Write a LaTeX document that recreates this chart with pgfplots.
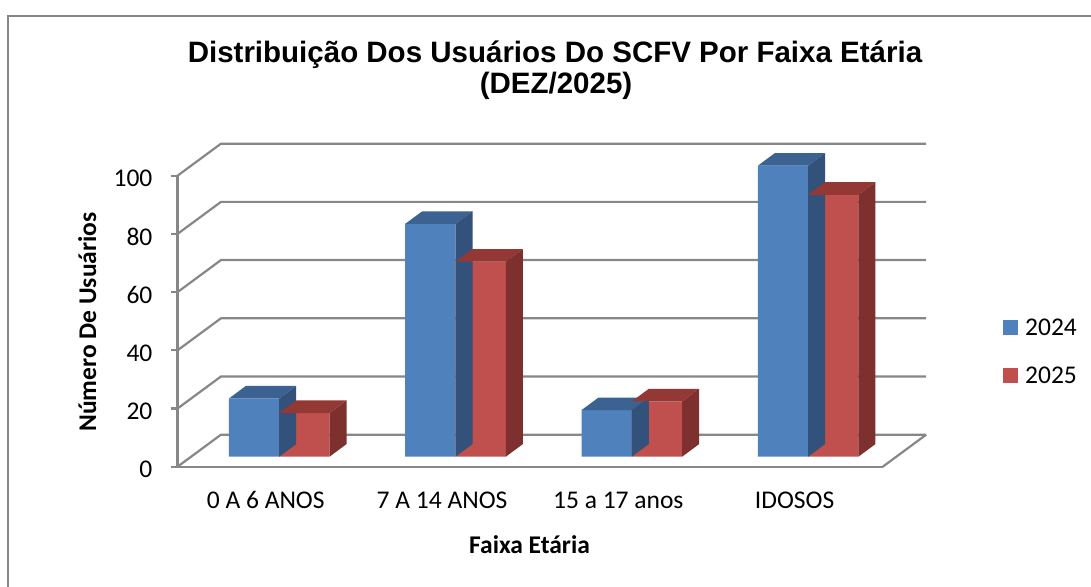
\documentclass[border=0pt]{standalone}
\usepackage{pgfplots}
\pgfplotsset{compat=1.18}
\usepackage{pgfplotstable}
\usepackage{fontspec}
\setmainfont{Carlito}
\newfontfamily\arialfont{Liberation Sans}
\definecolor{blueF}{HTML}{4F81BD}
\definecolor{blueT}{HTML}{3C6292}
\definecolor{blueS}{HTML}{32527C}
\definecolor{redF}{HTML}{C0504D}
\definecolor{redT}{HTML}{933835}
\definecolor{redS}{HTML}{7D302E}
\definecolor{gridgray}{HTML}{878787}

\pgfplotstableread{
x y2024 y2025
0 20 15
1 80 67
2 16 19
3 100 90
}\datatable

% 3D faces of the bars (top and right side), drawn at each data point
\pgfdeclareplotmark{topL}{%
  \pgfpathmoveto{\pgfpoint{-50.3pt}{0pt}}%
  \pgfpathlineto{\pgfpoint{0pt}{0pt}}%
  \pgfpathlineto{\pgfpoint{17pt}{12.6pt}}%
  \pgfpathlineto{\pgfpoint{-33.3pt}{12.6pt}}%
  \pgfpathclose\pgfusepathqfill}
\pgfdeclareplotmark{sideL}{%
  \pgfpathmoveto{\pgfpoint{0pt}{0pt}}%
  \pgfpathlineto{\pgfpoint{17pt}{12.6pt}}%
  \pgfpathlineto{\pgfpoint{17pt}{12.6pt-\hval*2.91pt}}%
  \pgfpathlineto{\pgfpoint{0pt}{-\hval*2.91pt}}%
  \pgfpathclose\pgfusepathqfill}
\pgfdeclareplotmark{topR}{%
  \pgfpathmoveto{\pgfpoint{0pt}{0pt}}%
  \pgfpathlineto{\pgfpoint{50.3pt}{0pt}}%
  \pgfpathlineto{\pgfpoint{67.3pt}{12.6pt}}%
  \pgfpathlineto{\pgfpoint{17pt}{12.6pt}}%
  \pgfpathclose\pgfusepathqfill}
\pgfdeclareplotmark{sideR}{%
  \pgfpathmoveto{\pgfpoint{50.3pt}{0pt}}%
  \pgfpathlineto{\pgfpoint{67.3pt}{12.6pt}}%
  \pgfpathlineto{\pgfpoint{67.3pt}{12.6pt-\hval*2.91pt}}%
  \pgfpathlineto{\pgfpoint{50.3pt}{-\hval*2.91pt}}%
  \pgfpathclose\pgfusepathqfill}

\begin{document}
\begin{tikzpicture}
\path[use as bounding box] (0pt,0pt) rectangle (1091pt,586pt);
% outer frame
\draw[gridgray, line width=2pt] (8pt,-2pt) -- (8pt,570pt) -- (1093pt,570pt);

% title
\node[anchor=base, font=\arialfont\bfseries\fontsize{29.5pt}{34pt}\selectfont] at (555pt,523.5pt) {Distribuição Dos Usuários Do SCFV Por Faixa Etária};
\node[anchor=base, font=\arialfont\bfseries\fontsize{29.5pt}{34pt}\selectfont] at (556pt,492.5pt) {(DEZ/2025)};

% axis titles
\node[anchor=base, rotate=90, font=\bfseries\fontsize{25.5pt}{30pt}\selectfont] at (96pt,264pt) {Número De Usuários};
\node[anchor=base, font=\bfseries\fontsize{25.5pt}{30pt}\selectfont] at (529.5pt,33pt) {Faixa Etária};

% front plane: value axis, floor and walls
\begin{axis}[
  at={(265.7pt,119.3pt)}, anchor=origin,
  x=176.3pt, y=2.91pt,
  xmin=-0.5, xmax=3.5, ymin=0, ymax=100,
  clip=false,
  axis x line=bottom, axis y line=left,
  axis line style={-, draw=gridgray, line width=2.2pt},
  ytick={0,20,40,60,80,100},
  xtick={0,1,2,3},
  xticklabels={0 A 6 ANOS, 7 A 14 ANOS, 15 a 17 anos, IDOSOS},
  tick align=outside,
  major tick length=7pt,
  major x tick style={draw=none},
  major y tick style={draw=gridgray, line width=2.2pt},
  /pgf/number format/assume math mode=true,
  ticklabel style={font=\fontsize{25.5pt}{30pt}\selectfont},
  yticklabel style={anchor=base east, inner sep=0pt, yshift=-11.3pt, xshift=-18pt},
  xticklabel style={anchor=base, inner sep=0pt, yshift=-35pt},
]
\pgfplotsinvokeforeach{0,20,40,60,80,100}{
  \draw[gridgray, line width=2.2pt] (axis cs:-0.5,#1) -- ++(43.4pt,32pt) -- ++(705.2pt,0pt);
}
\draw[gridgray, line width=2.2pt] (axis cs:3.5,0) -- ++(43.4pt,32pt);
\end{axis}

% bars
\begin{axis}[
  at={(279.2pt,129.3pt)}, anchor=origin,
  x=176.3pt, y=2.91pt,
  xmin=-0.5, xmax=3.5, ymin=0, ymax=100,
  axis lines=none, clip=false,
  legend cell align=left,
  legend style={at={(1.15137,0.47165)}, anchor=north west, draw=none, fill=none,
    inner sep=0pt, row sep=31.7pt, column sep=7pt,
    font=\fontsize{25.5pt}{30pt}\selectfont,
    nodes={inner sep=0pt, text height=16.1pt, text depth=0pt}},
]
\addplot[ybar, bar width=50.3pt, bar shift=-25.15pt, fill=blueF, draw=none,
  legend image code/.code={\fill[blueF] (0pt,-7.5pt) rectangle (15pt,7.5pt);}]
  table[x=x, y=y2024] {\datatable};
\addlegendentry{2024}
\addplot[only marks, mark=topL, color=blueT, forget plot] table[x=x, y=y2024] {\datatable};
\addplot[only marks, mark=sideL, color=blueS, forget plot, visualization depends on={rawy \as \hval}] table[x=x, y=y2024] {\datatable};
\addplot[ybar, bar width=50.3pt, bar shift=25.15pt, fill=redF, draw=none,
  legend image code/.code={\fill[redF] (0pt,-7.5pt) rectangle (15pt,7.5pt);}]
  table[x=x, y=y2025] {\datatable};
\addlegendentry{2025}
\addplot[only marks, mark=topR, color=redT, forget plot] table[x=x, y=y2025] {\datatable};
\addplot[only marks, mark=sideR, color=redS, forget plot, visualization depends on={rawy \as \hval}] table[x=x, y=y2025] {\datatable};
\end{axis}
\end{tikzpicture}
\end{document}
